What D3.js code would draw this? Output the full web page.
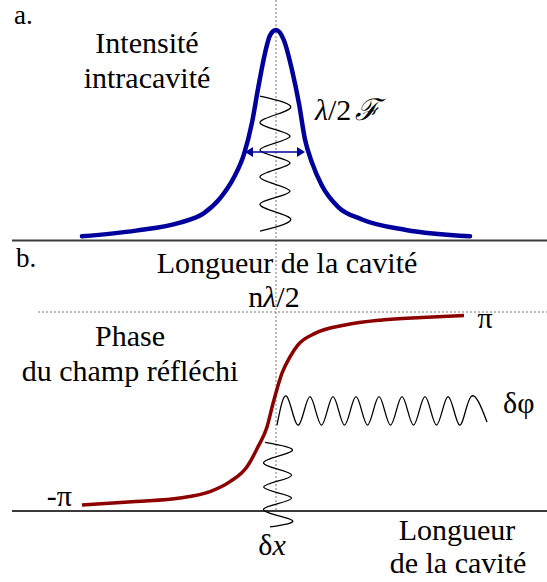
<!DOCTYPE html>
<html>
<head>
<meta charset="utf-8">
<script src="https://cdn.jsdelivr.net/npm/d3@7"></script>
</head>
<body style="margin:0">
<script>
// a. intracavity intensity (x: detuning, y: normalised intensity)
var intensityX = [-97, -70, -48, -36, -28, -21, -16, -12, -9, -5.5, -3, 0, 4, 8, 11.5, 14.5, 18, 23, 31, 43, 65, 97];
var intensityY = [0.02, 0.047, 0.085, 0.13, 0.2, 0.3, 0.41, 0.56, 0.72, 0.89, 0.975, 1, 0.95, 0.81, 0.65, 0.48, 0.37, 0.26, 0.16, 0.1, 0.05, 0.02];

// b. phase of the reflected field, in units of pi
var phaseX = [-97, -70, -48, -33, -23, -14.5, -9, -4.5, -1.5, 3, 7, 11, 19.5, 34.5, 53, 73, 94];
var phaseY = [-0.94, -0.905, -0.87, -0.805, -0.705, -0.555, -0.355, -0.155, 0.08, 0.385, 0.55, 0.67, 0.785, 0.87, 0.92, 0.945, 0.965];

// wiggles : turning points of each modulation
var wiggleTopY = [0.686, 0.627, 0.558, 0.495, 0.43, 0.368, 0.302, 0.235, 0.173, 0.107, 0.045];
var wiggleTopX = [-8, 7, -8, 7, -8, 7, -8, 7, -8, 7, -8];
var wiggleDxY = [-0.31, -0.4, -0.52, -0.64, -0.76, -0.87, -0.98, -1.09, -1.16];
var wiggleDxX = [-5.5, 7.8, -6.2, 7.8, -6.2, 7.8, -6.2, 7.8, -3];
var wiggleDphiX = [0.5, 5.5, 11.25, 17, 22.75, 28.5, 34.25, 40, 45.75, 51.5, 57.25, 63, 68.75, 74.5, 80.25, 86, 91.75, 97.5, 105.5];
var wiggleDphiY = [-0.136, 0.149, -0.136, 0.149, -0.136, 0.149, -0.136, 0.149, -0.136, 0.149, -0.136, 0.149, -0.136, 0.149, -0.136, 0.149, -0.136, 0.149, -0.105];

var w = 547, h = 582;
var BLUE = '#00009c';
var RED = '#8c0000';
var AXISCOLOR = '#3a3a3a';
var DOTCOLOR = '#777';
var FONT = '"Liberation Serif", Tinos, "Times New Roman", serif';

var SVG = d3.select('body').append('svg').attr('width', w).attr('height', h)
            .style('font-family', FONT).style('background', '#fff');

var X = d3.scaleLinear().domain([-100, 100]).range([76, 476]);
var Y_INT = d3.scaleLinear().domain([0, 1]).range([240.5, 30]);
var Y_PHASE = d3.scaleLinear().domain([-1, 1]).range([511, 312]);

function zipPts(xs, ys) {
  return xs.map(function(d, i) { return [d, ys[i]]; });
};

var lineInt = d3.line().x(function(d) { return X(d[0]); }).y(function(d) { return Y_INT(d[1]); }).curve(d3.curveMonotoneX);
var linePhase = d3.line().x(function(d) { return X(d[0]); }).y(function(d) { return Y_PHASE(d[1]); }).curve(d3.curveMonotoneX);
var wiggleInt = d3.line().x(function(d) { return X(d[0]); }).y(function(d) { return Y_INT(d[1]); }).curve(d3.curveNatural);
var wigglePhase = d3.line().x(function(d) { return X(d[0]); }).y(function(d) { return Y_PHASE(d[1]); }).curve(d3.curveNatural);

// labels first
function label(txt, x, y, anchor) {
  return SVG.append('text').attr('x', x).attr('y', y)
            .style('font-family', FONT).attr('font-size', 30).attr('fill', '#000')
            .attr('text-anchor', anchor || 'middle').text(txt);
};

label('a.', 14, 24, 'start').attr('font-size', 27);
label('b.', 16, 267, 'start').attr('font-size', 27);
label('Intensité', 147, 53);
label('intracavité', 147, 88);
label('Longueur de la cavité', 287, 273);
label('Phase', 130, 346);
label('du champ réfléchi', 130, 381);
label('Longueur', 457, 540);
label('de la cavité', 458, 573);
label('π', 485, 328);
label('-π', 72, 506, 'end');
label('δφ', 503, 413, 'start');

var lf = label('', 315, 120, 'start');
lf.append('tspan').attr('font-style', 'italic').text('λ');
lf.append('tspan').text('/2');
lf.append('tspan').attr('dx', 4).attr('font-style', 'italic').text('ℱ');

var nl = label('', 274, 307);
nl.append('tspan').text('n');
nl.append('tspan').attr('font-style', 'italic').text('λ');
nl.append('tspan').text('/2');

var dx = label('', 272, 555);
dx.append('tspan').text('δ');
dx.append('tspan').attr('font-style', 'italic').text('x');

// dotted guides
SVG.append('line').attr('x1', X(0)).attr('x2', X(0)).attr('y1', 0).attr('y2', Y_PHASE(-1))
   .attr('stroke', DOTCOLOR).attr('stroke-width', 1).attr('stroke-dasharray', '2,2');
SVG.append('line').attr('x1', 38).attr('x2', w).attr('y1', Y_PHASE(1)).attr('y2', Y_PHASE(1))
   .attr('stroke', DOTCOLOR).attr('stroke-width', 1).attr('stroke-dasharray', '2,2');

// baselines
SVG.append('line').attr('x1', 12).attr('x2', w).attr('y1', Y_INT(0)).attr('y2', Y_INT(0))
   .attr('stroke', AXISCOLOR).attr('stroke-width', 2);
SVG.append('line').attr('x1', 12).attr('x2', w).attr('y1', Y_PHASE(-1)).attr('y2', Y_PHASE(-1))
   .attr('stroke', AXISCOLOR).attr('stroke-width', 2);

// a. peak
SVG.append('path').datum(zipPts(intensityX, intensityY)).attr('d', lineInt)
   .attr('fill', 'none').attr('stroke', BLUE).attr('stroke-width', 4.5).attr('stroke-linecap', 'round');

SVG.append('path').datum(zipPts(wiggleTopX, wiggleTopY)).attr('d', wiggleInt)
   .attr('fill', 'none').attr('stroke', '#000').attr('stroke-width', 1.3);

// width arrow
var arrowY = Y_INT(0.42), ax1 = X(-15.5), ax2 = X(14.5);
SVG.append('line').attr('x1', ax1 + 4).attr('x2', ax2 - 4).attr('y1', arrowY).attr('y2', arrowY)
   .attr('stroke', BLUE).attr('stroke-width', 1.5);
SVG.append('path').attr('d', 'M' + ax1 + ',' + arrowY + 'l8,-5l0,10z').attr('fill', BLUE);
SVG.append('path').attr('d', 'M' + ax2 + ',' + arrowY + 'l-8,-5l0,10z').attr('fill', BLUE);

// b. phase
SVG.append('path').datum(zipPts(wiggleDxX, wiggleDxY)).attr('d', wigglePhase)
   .attr('fill', 'none').attr('stroke', '#000').attr('stroke-width', 1.3);
SVG.append('path').datum(zipPts(wiggleDphiX, wiggleDphiY)).attr('d', wigglePhase)
   .attr('fill', 'none').attr('stroke', '#000').attr('stroke-width', 1.3);
SVG.append('path').datum(zipPts(phaseX, phaseY)).attr('d', linePhase)
   .attr('fill', 'none').attr('stroke', RED).attr('stroke-width', 3.5);
</script>
</body>
</html>
